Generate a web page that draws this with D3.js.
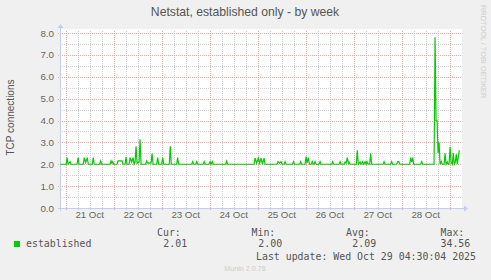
<!DOCTYPE html>
<html>
<head>
<meta charset="utf-8">
<script src="https://cdn.jsdelivr.net/npm/d3@7/dist/d3.min.js"></script>
<style>
  body { margin: 0; background: #f0f0f0; }
  svg { display: block; font-family: "Liberation Sans", Arial, sans-serif; }
  .mono { font-family: "DejaVu Sans Mono", monospace; }
</style>
</head>
<body>
<svg width="491" height="280"></svg>
<script>
(function() {
  var title = "Netstat, established only - by week";
  var yLabel = "TCP connections";
  var yTicks = [0, 1, 2, 3, 4, 5, 6, 7, 8];

  // graph window and the midnight the sample hours are counted from
  var startTime = new Date(2025, 9, 20, 21, 10);
  var endTime = new Date(2025, 9, 29, 5, 10);
  var anchor = new Date(2025, 9, 21, 0, 0);

  // established connections (hours after 21 Oct 00:00)
  var hours = [
    -2.8, 0.2, 0.7, 1.2, 2.2, 2.7,
    5.7, 6.2, 6.7, 8.8, 9.3, 10.0, 10.8, 11.3,
    13.3, 13.8, 14.3, 17.0, 17.5, 18.0,
    22.2, 22.7, 23.1, 23.5, 24.0,
    25.7, 26.2, 28.2, 28.7,
    29.7, 30.2, 30.7, 31.7, 32.2, 33.0, 33.7, 34.2,
    34.7, 35.2, 35.7, 36.7, 37.2, 37.7,
    40.0, 40.5, 41.0, 42.7, 43.2, 43.7,
    45.5, 46.0, 46.5, 48.0, 48.5, 49.0,
    51.8, 52.3, 52.8, 55.5, 56.0, 56.5,
    63.0, 63.5, 64.0, 65.0, 65.5, 66.0,
    68.8, 69.3, 69.8, 71.7, 72.2, 72.7, 73.3, 73.8,
    80.0, 80.5, 81.0,
    94.2, 94.7, 95.5, 96.3, 97.0, 97.7, 98.4, 99.2, 99.7,
    105.7, 106.2, 106.9, 107.7, 108.2, 109.2, 109.7, 110.2,
    113.4, 113.9, 114.4, 117.0, 117.5, 118.0,
    119.7, 120.2, 120.7, 121.3, 121.9, 122.8, 123.3, 123.8, 124.2, 124.7, 125.2,
    126.7, 127.2, 127.7, 133.0, 133.5, 134.0, 136.7, 137.2, 137.7,
    139.2, 139.7, 140.2, 140.8, 141.3, 141.7, 142.2,
    145.3, 145.8, 146.3, 147.2, 147.7, 148.4, 149.0, 149.7, 150.2, 150.7, 151.2,
    152.0, 152.5, 153.0,
    158.7, 159.2, 159.7, 162.5, 163.0, 163.5,
    165.5, 166.0, 166.6, 167.1,
    172.0, 172.5, 173.0, 173.5, 174.0,
    177.5, 178.0, 178.5,
    184.2, 184.7, 185.2, 185.7, 186.2, 186.7, 187.2,
    187.8, 188.3, 189.2, 189.7, 190.2, 190.8, 191.2, 191.7,
    192.2, 192.7, 193.3, 193.8, 194.3, 194.8, 195.3, 195.8, 196.3, 196.8
  ];
  var values = [
    2.0, 2.0, 2.3, 2.0, 2.12, 2.0,
    2.0, 2.3, 2.0, 2.0, 2.3, 2.08, 2.3, 2.0,
    2.0, 2.3, 2.0, 2.0, 2.15, 2.0,
    2.0, 2.15, 2.05, 2.12, 2.0,
    2.0, 2.15, 2.15, 2.0,
    2.0, 2.33, 2.0, 2.0, 2.3, 2.1, 2.3, 2.0,
    2.1, 2.82, 2.05, 2.1, 3.13, 2.0,
    2.0, 2.15, 2.05, 2.05, 2.49, 2.0,
    2.0, 2.3, 2.0, 2.0, 2.3, 2.0,
    2.0, 2.82, 2.0, 2.0, 2.3, 2.0,
    2.0, 2.12, 2.0, 2.0, 2.12, 2.0,
    2.0, 2.12, 2.0, 2.0, 2.12, 2.0, 2.12, 2.0,
    2.0, 2.15, 2.0,
    2.0, 2.28, 2.05, 2.28, 2.05, 2.28, 2.0, 2.28, 2.0,
    2.0, 2.12, 2.05, 2.12, 2.0, 2.0, 2.12, 2.0,
    2.0, 2.12, 2.0, 2.0, 2.12, 2.0,
    2.0, 2.35, 2.05, 2.3, 2.0, 2.0, 2.12, 2.0, 2.0, 2.12, 2.0,
    2.0, 2.12, 2.0, 2.0, 2.12, 2.0, 2.0, 2.12, 2.0,
    2.0, 2.1, 2.05, 2.3, 2.05, 2.1, 2.0,
    2.0, 2.64, 2.0, 2.1, 2.0, 2.12, 2.0, 2.12, 2.0, 2.12, 2.0,
    2.0, 2.49, 2.0,
    2.0, 2.12, 2.0, 2.0, 2.12, 2.0,
    2.0, 2.12, 2.12, 2.0,
    2.0, 2.3, 2.1, 2.3, 2.0,
    2.0, 2.12, 2.0,
    2.0, 7.8, 4.0, 4.0, 2.5, 3.0, 2.0,
    2.12, 2.0, 2.0, 2.5, 2.0, 2.1, 2.0, 2.0,
    2.8, 2.1, 2.0, 2.5, 2.0, 2.1, 2.45, 2.0, 2.3, 2.64
  ];

  var legendName = "established";
  var legendHeads = ["Cur:", "Min:", "Avg:", "Max:"];
  var legendValues = ["2.01", "2.00", "2.09", "34.56"];
  var lastUpdate = "Last update: Wed Oct 29 04:30:04 2025";
  var watermark = "RRDTOOL / TOBI OETIKER";
  var version = "Munin 2.0.76";

  var lineColor = "#00cc00", axisColor = "#c4cbf4", fontColor = "#666666";
  var majorGrid = "#e8a8a8", minorGrid = "#cfcfcf";

  var svg = d3.select("svg");
  var left = 60, right = 460, top = 29, bottom = 208;

  var x = d3.scaleTime().domain([startTime, endTime]).range([left, right]);
  var y = d3.scaleLinear().domain([0, 8]).range([bottom, 33]);

  var data = hours.map(function(h, i) {
    return { t: d3.timeMinute.offset(anchor, Math.round(h * 60)), v: values[i] };
  });

  // canvas
  svg.append("rect")
    .attr("x", left).attr("y", top)
    .attr("width", right - left + 2).attr("height", bottom - top)
    .attr("fill", "#ffffff");

  var grid = svg.append("g").attr("shape-rendering", "crispEdges");

  // minor grid
  var minorY = y.ticks(16).filter(function(d) { return d % 1 !== 0; });
  grid.selectAll(".hmin").data(minorY).enter().append("line")
    .attr("x1", left).attr("x2", right + 2)
    .attr("y1", function(d) { return Math.round(y(d)) + 0.5; })
    .attr("y2", function(d) { return Math.round(y(d)) + 0.5; })
    .attr("stroke", minorGrid).attr("stroke-dasharray", "1,1");

  var sixHours = d3.timeHour.every(6).range(startTime, endTime).filter(function(d) { return d.getHours() !== 0; });
  grid.selectAll(".vmin").data(sixHours).enter().append("line")
    .attr("x1", function(d) { return Math.round(x(d)) + 0.5; })
    .attr("x2", function(d) { return Math.round(x(d)) + 0.5; })
    .attr("y1", top + 2).attr("y2", bottom + 2)
    .attr("stroke", minorGrid).attr("stroke-dasharray", "1,1");

  // major grid
  grid.selectAll(".hmaj").data(yTicks).enter().append("line")
    .attr("x1", left - 2).attr("x2", right + 2)
    .attr("y1", function(d) { return Math.round(y(d)) + 0.5; })
    .attr("y2", function(d) { return Math.round(y(d)) + 0.5; })
    .attr("stroke", majorGrid).attr("stroke-dasharray", "1,1");

  var days = d3.timeDay.range(startTime, endTime);
  grid.selectAll(".vmaj").data(days).enter().append("line")
    .attr("x1", function(d) { return Math.round(x(d)) + 0.5; })
    .attr("x2", function(d) { return Math.round(x(d)) + 0.5; })
    .attr("y1", top + 2).attr("y2", bottom + 3)
    .attr("stroke", majorGrid).attr("stroke-dasharray", "1,1");

  // axes with arrows
  var ax = svg.append("g").attr("shape-rendering", "crispEdges");
  ax.append("line").attr("x1", left + 0.5).attr("x2", left + 0.5)
    .attr("y1", top - 2).attr("y2", bottom + 3).attr("stroke", axisColor);
  ax.append("line").attr("x1", left - 2).attr("x2", right + 5)
    .attr("y1", bottom + 0.5).attr("y2", bottom + 0.5).attr("stroke", axisColor);
  svg.append("path")
    .attr("d", d3.line()([[left - 2.5, top - 1], [left + 3.5, top - 1], [left + 0.5, top - 5]]) + "Z")
    .attr("fill", axisColor);
  svg.append("path")
    .attr("d", d3.line()([[right + 4, bottom - 2.5], [right + 4, bottom + 3.5], [right + 8, bottom + 0.5]]) + "Z")
    .attr("fill", axisColor);

  // series
  svg.append("path").datum(data)
    .attr("d", d3.line().x(function(d) { return x(d.t); }).y(function(d) { return y(d.v); }))
    .attr("fill", "none").attr("stroke", lineColor).attr("stroke-width", 1.2)
    .attr("stroke-linejoin", "miter");

  // tick labels
  svg.append("g").selectAll("text").data(yTicks).enter().append("text")
    .attr("x", left - 6).attr("y", function(d) { return y(d) + 3.5; })
    .attr("text-anchor", "end").attr("font-size", 9.8).attr("fill", fontColor)
    .text(function(d) { return d3.format(".1f")(d); });

  var fmt = d3.timeFormat("%-d %b");
  var labelDays = days.filter(function(d) { return d3.timeHour.offset(d, 12) < endTime; });
  svg.append("g").selectAll("text").data(labelDays).enter().append("text")
    .attr("x", function(d) { return x(d3.timeHour.offset(d, 12)); })
    .attr("y", bottom + 10)
    .attr("text-anchor", "middle").attr("font-size", 9.7).attr("fill", fontColor)
    .text(fmt);

  // titles
  svg.append("text").attr("x", 245).attr("y", 16)
    .attr("text-anchor", "middle").attr("font-size", 12.2).attr("fill", "#555555")
    .text(title);
  svg.append("text")
    .attr("transform", "translate(13.5," + ((top + bottom) / 2 - 1) + ") rotate(-90)")
    .attr("text-anchor", "middle").attr("font-size", 10).attr("fill", "#555555")
    .text(yLabel);
  svg.append("text")
    .attr("transform", "translate(481,5) rotate(90)")
    .attr("font-size", 7.4).attr("fill", "#cfcfcf")
    .text(watermark);

  // legend
  svg.append("rect").attr("x", 14).attr("y", 241).attr("width", 6).attr("height", 6)
    .attr("fill", lineColor);
  var mono = svg.append("g").attr("class", "mono").attr("font-size", 9.9).attr("fill", "#555555");
  mono.append("text").attr("x", 26).attr("y", 247).text(legendName);
  var headX = [157, 251.5, 346, 440.5];
  var valX = [163.3, 258.3, 352.3, 440.5];
  mono.selectAll(".head").data(legendHeads).enter().append("text")
    .attr("x", function(d, i) { return headX[i]; }).attr("y", 235.5).text(function(d) { return d; });
  mono.selectAll(".val").data(legendValues).enter().append("text")
    .attr("x", function(d, i) { return valX[i]; }).attr("y", 247).text(function(d) { return d; });
  mono.append("text").attr("x", 256).attr("y", 259.5).text(lastUpdate);

  svg.append("text").attr("x", 245).attr("y", 270.5)
    .attr("text-anchor", "middle").attr("font-size", 7.2).attr("fill", "#cccccc")
    .text(version);
}).call(this);
</script>
</body>
</html>
